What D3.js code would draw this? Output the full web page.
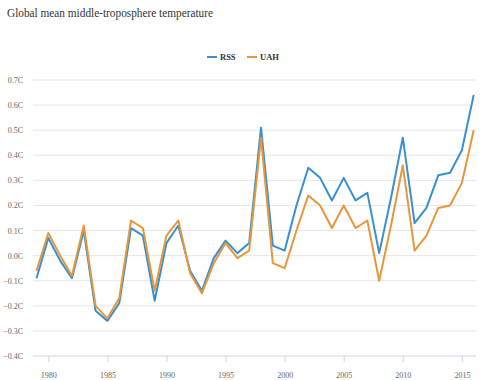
<!DOCTYPE html>
<html>
<head>
<meta charset="utf-8">
<script src="https://cdn.jsdelivr.net/npm/d3@7"></script>
<style>
  body { margin: 0; background: #fff; }
  svg text { font-family: "Liberation Serif", "Times New Roman", Times, "DejaVu Serif", "Noto Serif", Georgia, serif; }
</style>
</head>
<body>
<svg id="chart"></svg>
<script>
// years on the x axis
const years = d3.range(1979, 2017)

// series values, degrees C
const rss =
    [ -0.09, 0.07, -0.02, -0.09, 0.10, -0.22, -0.26, -0.19, 0.11, 0.08
    , -0.18, 0.05, 0.12, -0.06, -0.14, -0.01, 0.06, 0.01, 0.05, 0.51
    , 0.04, 0.02, 0.20, 0.35, 0.31, 0.22, 0.31, 0.22, 0.25, 0.01
    , 0.23, 0.47, 0.13, 0.19, 0.32, 0.33, 0.42, 0.64 ]
const uah =
    [ -0.06, 0.09, 0.00, -0.08, 0.12, -0.20, -0.25, -0.17, 0.14, 0.11
    , -0.14, 0.08, 0.14, -0.07, -0.15, -0.03, 0.05, -0.01, 0.02, 0.47
    , -0.03, -0.05, 0.10, 0.24, 0.20, 0.11, 0.20, 0.11, 0.14, -0.10
    , 0.12, 0.36, 0.02, 0.08, 0.19, 0.20, 0.29, 0.50 ]

const seriesNames = ['RSS', 'UAH']
const yTicks = [-0.4, -0.3, -0.2, -0.1, 0, 0.1, 0.2, 0.3, 0.4, 0.5, 0.6, 0.7]
const xTicks = [1980, 1985, 1990, 1995, 2000, 2005, 2010, 2015]

const width  = 484
const height = 380
const colors = { RSS: '#3a8fd0', UAH: '#e8963a' }

const plot = { left: 33, right: 476, top: 80, bottom: 356 }

const svg = d3.select('#chart')
    .attr('width', width)
    .attr('height', height)

const x = d3.scaleLinear()
    .domain([1979, 2016])
    .range([36.5, 473.7])

const y = d3.scaleLinear()
    .domain([-0.4, 0.7])
    .range([plot.bottom, plot.top])

// title
svg.append('text')
    .attr('x', 7)
    .attr('y', 17)
    .attr('font-size', 12.5)
    .attr('textLength', 206)
    .attr('lengthAdjust', 'spacingAndGlyphs')
    .attr('fill', '#333')
    .text('Global mean middle-troposphere temperature')

// grid lines
svg.append('g')
    .selectAll('line')
    .data(yTicks.slice(1))
    .enter()
    .append('line')
    .attr('x1', plot.left)
    .attr('x2', plot.right)
    .attr('y1', d => y(d))
    .attr('y2', d => y(d))
    .attr('stroke', '#e6e6e6')
    .attr('stroke-width', 1)

// y axis labels
svg.append('g')
    .selectAll('text')
    .data(yTicks)
    .enter()
    .append('text')
    .attr('x', 23)
    .attr('y', d => y(d) + 3)
    .attr('text-anchor', 'end')
    .attr('font-size', 8)
    .attr('fill', '#666')
    .text(d => d3.format('.1f')(d) + 'C')

// x axis
const xAxis = d3.axisBottom(x)
    .tickValues(xTicks)
    .tickFormat(d3.format('d'))
    .tickSize(6)
    .tickPadding(10)

const gx = svg.append('g')
    .attr('transform', 'translate(0,' + plot.bottom + ')')
    .call(xAxis)

gx.select('.domain').remove()
gx.append('line')
    .attr('x1', plot.left)
    .attr('x2', plot.right)
    .attr('stroke', '#ccd6eb')
gx.selectAll('.tick line').attr('stroke', '#ccd6eb')
gx.selectAll('.tick text')
    .attr('font-size', 8)
    .attr('fill', '#666')

// lines
const line = d3.line()
    .x((d, i) => x(years[i]))
    .y(d => y(d))

const seriesData = { RSS: rss, UAH: uah }

svg.append('g')
    .selectAll('path')
    .data(seriesNames)
    .enter()
    .append('path')
    .attr('d', d => line(seriesData[d]))
    .attr('fill', 'none')
    .attr('stroke', d => colors[d])
    .attr('stroke-width', 2)
    .attr('stroke-linejoin', 'round')

// legend
const legendX = [207, 247]
const legend = svg.append('g')
    .selectAll('g')
    .data(seriesNames)
    .enter()
    .append('g')
    .attr('transform', (d, i) => 'translate(' + legendX[i] + ',57)')

legend.append('line')
    .attr('x1', 0)
    .attr('x2', 10)
    .attr('stroke', d => colors[d])
    .attr('stroke-width', 2)

legend.append('text')
    .attr('x', 13)
    .attr('y', 3)
    .attr('font-size', 8.5)
    .attr('font-weight', 'bold')
    .attr('fill', '#333')
    .text(d => d)
</script>
</body>
</html>
